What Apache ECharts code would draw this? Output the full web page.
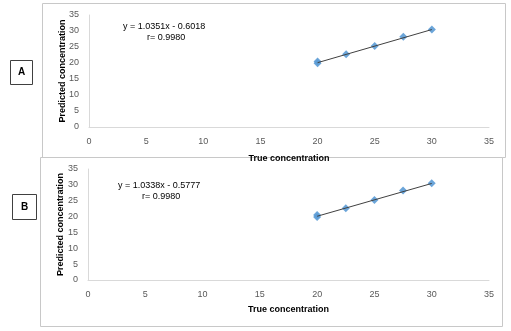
<!DOCTYPE html>
<html>
<head>
<meta charset="utf-8">
<script src="https://cdn.jsdelivr.net/npm/echarts@6/dist/echarts.min.js"></script>
<style>
  html, body { margin: 0; padding: 0; background: #fff; }
  #chart { width: 511px; height: 331px; }
</style>
</head>
<body>
<div id="chart"></div>
<script>
// true concentrations (x) and predicted values
var trueConc = [20, 20, 22.5, 25, 27.5, 30];
var predA = [19.9, 20.5, 22.7, 25.3, 28.2, 30.5];
var predB = [19.9, 20.5, 22.6, 25.2, 28.2, 30.5];
// trendline end points (x, y)
var trendA = [[20, 20.1], [30, 30.45]];
var trendB = [[20, 20.1], [30, 30.44]];
var xTicks = [0, 35, 5];   // min, max, interval
var yTicks = [0, 35, 5];
var eqA = ['y = 1.0351x - 0.6018', 'r= 0.9980'];
var eqB = ['y = 1.0338x - 0.5777', 'r= 0.9980'];
var panels = ['A', 'B'];

var font = 'Liberation Sans';
var lblColor = '#595959';

function pairs(xs, ys) {
	var out = [];
	for (var i = 0; i < xs.length; i++) out.push([xs[i], ys[i]]);
	return out;
}

function xAxisFor(idx, gap) {
	return {
		gridIndex: idx, type: 'value',
		min: xTicks[0], max: xTicks[1], interval: xTicks[2],
		name: 'True concentration', nameLocation: 'middle', nameGap: gap,
		nameTextStyle: {fontFamily: font, fontSize: 9, fontWeight: 'bold', color: '#000'},
		axisLine: {show: true, lineStyle: {color: '#d9d9d9'}},
		axisTick: {show: false},
		splitLine: {show: false},
		axisLabel: {fontFamily: font, fontSize: 9, color: lblColor, margin: 10}
	};
}

function yAxisFor(idx, gap) {
	return {
		gridIndex: idx, type: 'value',
		min: yTicks[0], max: yTicks[1], interval: yTicks[2],
		name: 'Predicted concentration', nameLocation: 'middle', nameGap: gap,
		nameMoveOverlap: false,
		nameTextStyle: {fontFamily: font, fontSize: 9, fontWeight: 'bold', color: '#000'},
		axisLine: {show: true, lineStyle: {color: '#d9d9d9'}},
		axisTick: {show: false},
		splitLine: {show: false},
		axisLabel: {fontFamily: font, fontSize: 9, color: lblColor, margin: 10}
	};
}

function scatterFor(idx, data) {
	return {
		type: 'scatter', xAxisIndex: idx, yAxisIndex: idx,
		symbol: 'diamond', symbolSize: 8,
		itemStyle: {color: '#5b9bd5', opacity: 0.9},
		data: data, z: 3
	};
}

function trendFor(idx, data) {
	return {
		type: 'line', xAxisIndex: idx, yAxisIndex: idx,
		symbol: 'none', data: data,
		lineStyle: {color: '#404040', width: 1}, z: 4
	};
}

function eqText(left, top, lines) {
	return [
		{type: 'text', left: left, top: top, style: {text: lines[0], font: '9px ' + font, fill: '#000'}},
		{type: 'text', left: left + 24, top: top + 11, style: {text: lines[1], font: '9px ' + font, fill: '#000'}}
	];
}

var graphics = [
	{type: 'rect', shape: {x: 42.5, y: 3.5, width: 463, height: 154}, style: {fill: 'none', stroke: '#c8c8c8', lineWidth: 1}, z: -1},
	{type: 'rect', shape: {x: 40.5, y: 157.5, width: 462, height: 169}, style: {fill: '#fff', stroke: '#c8c8c8', lineWidth: 1}, z: -1},
	{type: 'rect', shape: {x: 10.5, y: 60.5, width: 22, height: 24}, style: {fill: '#fff', stroke: '#404040', lineWidth: 1}},
	{type: 'text', x: 21.5, y: 72.5, style: {text: panels[0], font: 'bold 10px ' + font, fill: '#000', align: 'center', verticalAlign: 'middle'}},
	{type: 'rect', shape: {x: 12.5, y: 194.5, width: 24, height: 25}, style: {fill: '#fff', stroke: '#404040', lineWidth: 1}},
	{type: 'text', x: 24.5, y: 207, style: {text: panels[1], font: 'bold 10px ' + font, fill: '#000', align: 'center', verticalAlign: 'middle'}}
].concat(eqText(123, 22, eqA)).concat(eqText(118, 181, eqB));

var myChart = echarts.init(document.getElementById('chart'));
var option = {
	animation: false,
	grid: [
		{left: 89, top: 15, width: 400, height: 112},
		{left: 88, top: 169, width: 401, height: 111}
	],
	xAxis: [xAxisFor(0, 27), xAxisFor(1, 25)],
	yAxis: [yAxisFor(0, 22), yAxisFor(1, 23)],
	series: [
		scatterFor(0, pairs(trueConc, predA)),
		trendFor(0, trendA),
		scatterFor(1, pairs(trueConc, predB)),
		trendFor(1, trendB)
	],
	graphic: graphics
};
myChart.setOption(option);
</script>
</body>
</html>
